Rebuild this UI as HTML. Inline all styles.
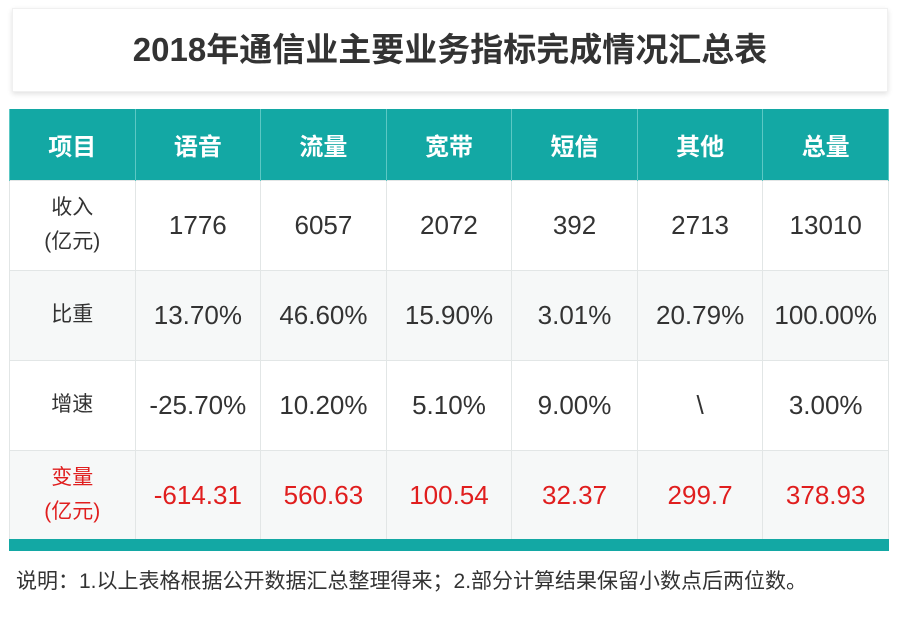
<!DOCTYPE html>
<html><head><meta charset="utf-8">
<style>
*{margin:0;padding:0;box-sizing:border-box}
body{width:900px;height:629px;background:#fff;position:relative;overflow:hidden;font-family:"Liberation Sans","Noto Sans CJK SC",sans-serif;color:#333}
#titlebox{position:absolute;left:12px;top:8px;width:876px;height:84px;background:#fff;box-shadow:0 2px 5px rgba(0,0,0,0.12);border:1px solid #f0f0f0}
#title{position:absolute;left:0;right:0;top:19px;text-align:center;font-size:33px;font-weight:bold;color:#333;line-height:44px}
table{position:absolute;left:9px;top:109px;width:880px;border-collapse:collapse;table-layout:fixed}
th{background:#13a8a4;color:#fff;height:71px;font-size:24px;font-weight:bold;border-right:1px solid #5cc8c4;border-left:1px solid #5cc8c4}
td{height:90px;text-align:center;font-size:26px;color:#333;border:1px solid #e2e6e6}
td.lab{font-size:21px;line-height:34px}
tr.alt td{background:#f6f8f8}
tr.red td{color:#e01e1e}
#bar{position:absolute;left:9px;top:539px;width:880px;height:12px;background:#13a8a4}
#note{position:absolute;left:16px;top:565px;font-size:21px;color:#333}
</style></head><body>
<div id="titlebox"><div id="title">2018年通信业主要业务指标完成情况汇总表</div></div>
<table>
<tr><th>项目</th><th>语音</th><th>流量</th><th>宽带</th><th>短信</th><th>其他</th><th>总量</th></tr>
<tr><td class="lab">收入<br>(亿元)</td><td>1776</td><td>6057</td><td>2072</td><td>392</td><td>2713</td><td>13010</td></tr>
<tr class="alt"><td class="lab">比重</td><td>13.70%</td><td>46.60%</td><td>15.90%</td><td>3.01%</td><td>20.79%</td><td>100.00%</td></tr>
<tr><td class="lab">增速</td><td>-25.70%</td><td>10.20%</td><td>5.10%</td><td>9.00%</td><td>\</td><td>3.00%</td></tr>
<tr class="alt red"><td class="lab">变量<br>(亿元)</td><td>-614.31</td><td>560.63</td><td>100.54</td><td>32.37</td><td>299.7</td><td>378.93</td></tr>
</table>
<div id="bar"></div>
<div id="note">说明：1.以上表格根据公开数据汇总整理得来；2.部分计算结果保留小数点后两位数。</div>
</body></html>
